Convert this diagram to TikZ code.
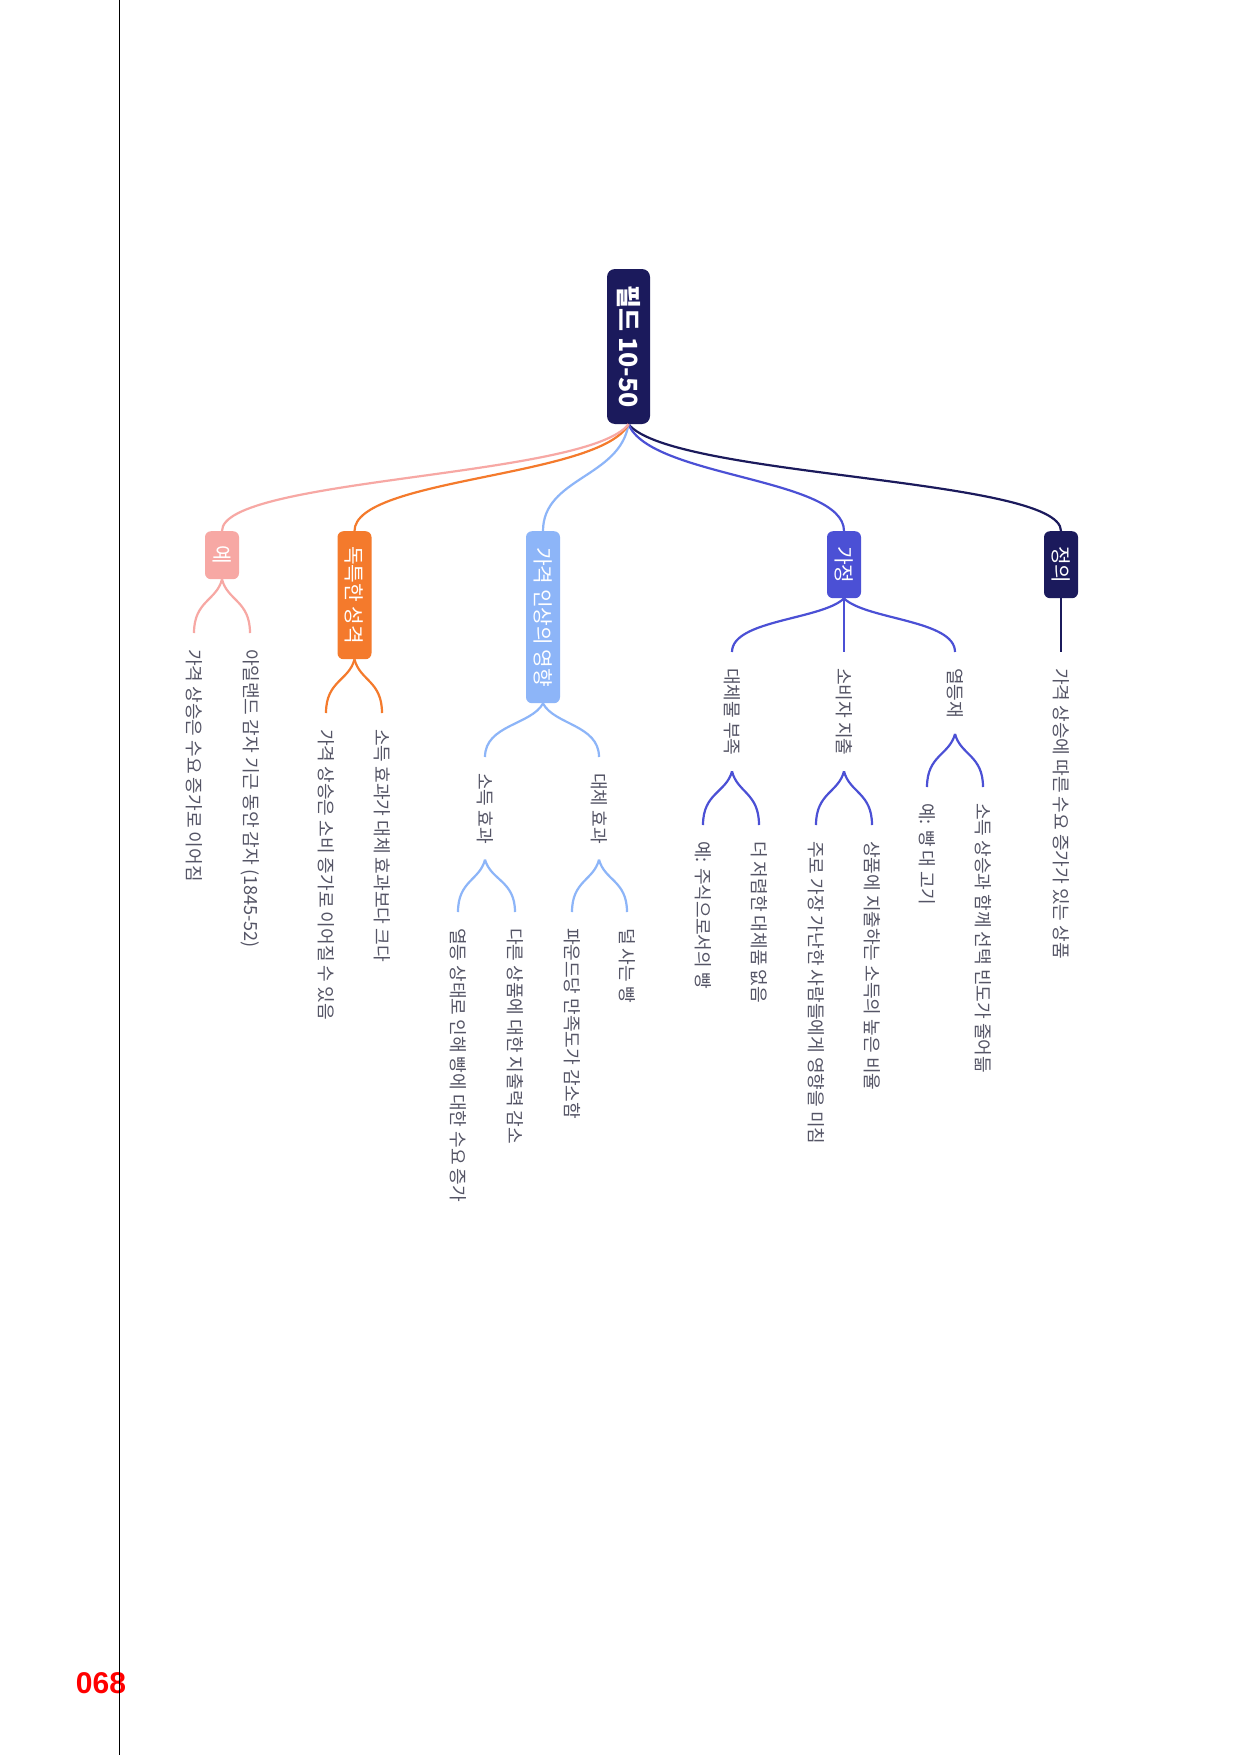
\documentclass[tikz,border=0pt]{standalone}
\usepackage{fontspec}
\setmainfont{Noto Sans CJK KR}
\newfontfamily\numfont{Liberation Sans}
\usetikzlibrary{calc}
\definecolor{navy}{HTML}{1B1A5C}
\definecolor{royal}{HTML}{4B50D5}
\definecolor{sky}{HTML}{8DB5F8}
\definecolor{orng}{HTML}{F47A2C}
\definecolor{pinkc}{HTML}{F7A8A4}
\definecolor{leafgray}{HTML}{555566}
\begin{document}
\begin{tikzpicture}[x=1pt,y=-1pt,
  box/.style={rotate=-90, anchor=west, rounded corners=6pt, minimum height=34pt, inner sep=0pt, text=white, font=\fontsize{20.3}{23}\selectfont},
  leaf/.style={rotate=-90, anchor=west, inner sep=0pt, outer xsep=16pt, outer ysep=0pt, text=leafgray, font=\fontsize{18.1}{21}\selectfont},
  rootlink/.style={line width=2.2pt, to path={let \p1=(\tikztostart), \p2=(\tikztotarget) in .. controls ({0.9*\x1+0.1*\x2},{0.5*\y1+0.5*\y2}) and (\x2,{0.5*\y1+0.5*\y2}) .. (\tikztotarget)}},
  forklink/.style={line width=2.2pt, to path={let \p1=(\tikztostart), \p2=(\tikztotarget) in .. controls ({0.8*\x1+0.2*\x2},{0.6*\y1+0.4*\y2}) and (\x2,{0.6*\y1+0.4*\y2}) .. (\tikztotarget)}}
]
\useasboundingbox (0,0) rectangle (1241,1755);
\fill[white] (0,0) rectangle (1241,1755);

% root
\node[box, fill=navy, minimum width=155pt, minimum height=43pt, rounded corners=8pt, anchor=center, font=\fontsize{25}{29}\selectfont\bfseries] (root) at (628.5,346.5) {필드 10-50};

% level 1
\node[box, fill=navy, minimum width=67pt] (def) at (1061,531) {정의};
\node[box, fill=royal, minimum width=67pt] (asm) at (844,531) {가정};
\node[box, fill=sky, minimum width=172pt] (eff) at (543,531) {가격 인상의 영향};
\node[box, fill=orng, minimum width=128pt] (uni) at (354.5,531) {독특한 성격};
\node[box, fill=pinkc, minimum width=48pt] (ex) at (222,531) {예};

\draw[navy, rootlink] (root.east) to (def.west);
\draw[royal, rootlink] (root.east) to (asm.west);
\draw[sky, rootlink] (root.east) to (eff.west);
\draw[orng, rootlink] (root.east) to (uni.west);
\draw[pinkc, rootlink] (root.east) to (ex.west);

% 정의
\node[leaf] (def1) at (1061,652) {가격 상승에 따른 수요 증가가 있는 상품};
\draw[navy, line width=2.2pt] (def.east) -- (def1.west);

% 가정
\node[leaf] (a1) at (732,652) {대체물 부족};
\node[leaf] (a2) at (844,652) {소비자 지출};
\node[leaf] (a3) at (955,652) {열등재};
\node[leaf] (a11) at (703,825) {예: 주식으로서의 빵};
\node[leaf] (a12) at (759,825) {더 저렴한 대체품 없음};
\node[leaf] (a21) at (816,825) {주로 가장 가난한 사람들에게 영향을 미침};
\node[leaf] (a22) at (872,825) {상품에 지출하는 소득의 높은 비율};
\node[leaf] (a31) at (927,787) {예: 빵 대 고기};
\node[leaf] (a32) at (983,787) {소득 상승과 함께 선택 빈도가 줄어듦};
\draw[royal, forklink] (asm.east) to (a1.west);
\draw[royal, line width=2.2pt] (asm.east) -- (a2.west);
\draw[royal, forklink] (asm.east) to (a3.west);
\draw[royal, forklink] (a1.east) to (a11.west);
\draw[royal, forklink] (a1.east) to (a12.west);
\draw[royal, forklink] (a2.east) to (a21.west);
\draw[royal, forklink] (a2.east) to (a22.west);
\draw[royal, forklink] (a3.east) to (a31.west);
\draw[royal, forklink] (a3.east) to (a32.west);

% 가격 인상의 영향
\node[leaf] (e1) at (485,757) {소득 효과};
\node[leaf] (e2) at (599,757) {대체 효과};
\node[leaf] (e11) at (458,912) {열등 상태로 인해 빵에 대한 수요 증가};
\node[leaf] (e12) at (515,912) {다른 상품에 대한 지출력 감소};
\node[leaf] (e21) at (572,912) {파운드당 만족도가 감소함};
\node[leaf] (e22) at (627,912) {덜 사는 빵};
\draw[sky, forklink] (eff.east) to (e1.west);
\draw[sky, forklink] (eff.east) to (e2.west);
\draw[sky, forklink] (e1.east) to (e11.west);
\draw[sky, forklink] (e1.east) to (e12.west);
\draw[sky, forklink] (e2.east) to (e21.west);
\draw[sky, forklink] (e2.east) to (e22.west);

% 독특한 성격
\node[leaf] (u1) at (326,713) {가격 상승은 소비 증가로 이어질 수 있음};
\node[leaf] (u2) at (382,713) {소득 효과가 대체 효과보다 크다};
\draw[orng, forklink] (uni.east) to (u1.west);
\draw[orng, forklink] (uni.east) to (u2.west);

% 예
\node[leaf] (x1) at (194,633) {가격 상승은 수요 증가로 이어짐};
\node[leaf] (x2) at (250,633) {아일랜드 감자 기근 동안 감자 (1845-52)};
\draw[pinkc, forklink] (ex.east) to (x1.west);
\draw[pinkc, forklink] (ex.east) to (x2.west);

% page number and margin line
\node[text=red, font=\numfont\fontsize{30}{34}\selectfont\bfseries, inner sep=0pt] (pg) at (101,1683) {068};
\coordinate (lt) at (119.5,0);
\coordinate (lb) at (119.5,1755);
\draw[black, line width=1.6pt] (lt) -- (lb);
\end{tikzpicture}
\end{document}
